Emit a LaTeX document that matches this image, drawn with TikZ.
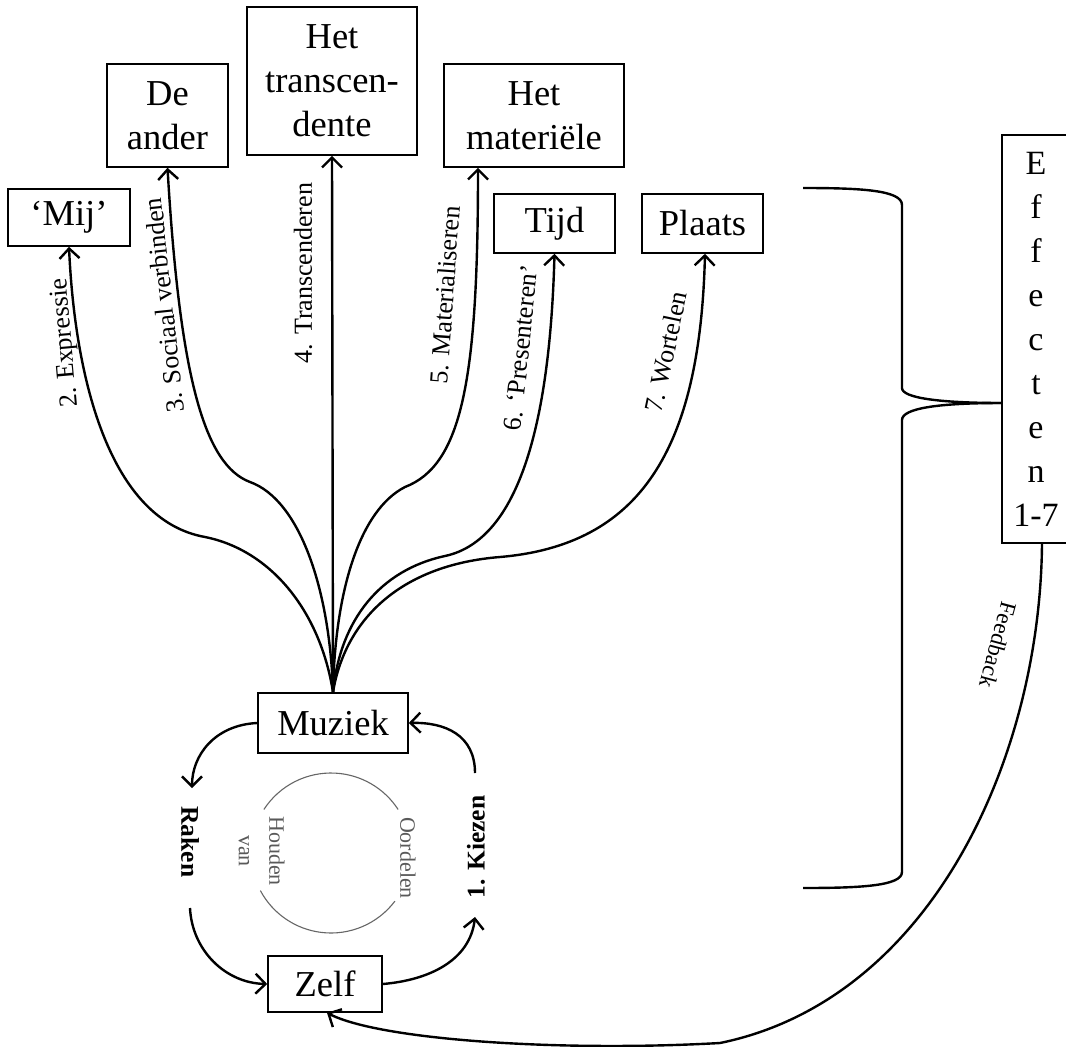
\documentclass[tikz,border=0pt]{standalone}
\usepackage{fontspec}
\setmainfont{Liberation Serif}
\usetikzlibrary{arrows.meta}
\begin{document}
\begin{tikzpicture}[x=1pt,y=-1pt,
  box/.style={draw, line width=1.6pt, inner sep=0pt, align=center, font=\fontsize{36.5}{44}\selectfont},
  lbl/.style={font=\fontsize{26}{30}\selectfont, inner sep=0pt},
  bl/.style={font=\fontsize{25.5}{28}\selectfont\bfseries, inner sep=0pt},
  sm/.style={font=\fontsize{22}{25}\selectfont, text=black!65, inner sep=0pt},
  arr/.style={line width=2.4pt, -{Straight Barb[length=10pt,width=20pt]}},
  ln/.style={line width=2.4pt}]
\useasboundingbox (0,0) rectangle (1066,1047);

% boxes
\node[box, minimum width=122pt, minimum height=57pt] (mij) at (69,217.5) {‘Mij’};
\node[box, minimum width=121pt, minimum height=103pt] (ander) at (167.5,115.5) {De\\ander};
\node[box, minimum width=170pt, minimum height=148pt] (trans) at (332,81) {Het\\transcen-\\dente};
\node[box, minimum width=180pt, minimum height=103pt] (mat) at (534,115.5) {Het\\materiële};
\node[box, minimum width=121pt, minimum height=59pt] (tijd) at (554.5,223.5) {Tijd};
\node[box, minimum width=121pt, minimum height=59pt] (plaats) at (702.5,223.5) {Plaats};
\node[box, minimum width=150pt, minimum height=60pt] (muz) at (333,723) {Muziek};
\node[box, minimum width=114pt, minimum height=56pt] (zelf) at (325,984) {Zelf};
\node[box, minimum width=68pt, minimum height=408pt, font=\fontsize{34}{44}\selectfont] (eff) at (1036,339) {E\\f\\f\\e\\c\\t\\e\\n\\1-7};

% fan of effects
\draw[arr] (muz.north) .. controls (320,610) and (270,550) .. (205,537)
  .. controls (110,520) and (75,380) .. (mij.south);
\draw[arr] (muz.north) .. controls (330,590) and (300,500) .. (250,482)
  .. controls (205,465) and (180,380) .. (ander.south);
\draw[arr] (muz.north) -- (trans.south);
\draw[arr] (muz.north) .. controls (335,590) and (360,510) .. (405,487)
  .. controls (462,465) and (478,380) .. ([xshift=-56pt]mat.south);
\draw[arr] (muz.north) .. controls (340,620) and (380,570) .. (445,556)
  .. controls (520,540) and (550,420) .. (tijd.south);
\draw[arr] (muz.north) .. controls (345,620) and (400,565) .. (500,557)
  .. controls (640,545) and (700,450) .. ([xshift=2.5pt]plaats.south);

% branch labels
\node[lbl, rotate=95] (l2) at (66,343) {2. Expressie};
\node[lbl, rotate=96] (l3) at (164,305) {3. Sociaal verbinden};
\node[lbl, rotate=90] (l4) at (303,273) {4. Transcenderen};
\node[lbl, rotate=86] (l5) at (445,295) {5. Materialiseren};
\node[lbl, rotate=84] (l6) at (521,348) {6. ‘Presenteren’};
\node[lbl, rotate=78] (l7) at (666,352) {7. Wortelen};

% loop
\node[bl, rotate=-90] (raken) at (190,842) {Raken};
\node[bl, rotate=90] (kiezen) at (476,847) {1. Kiezen};
\coordinate (rktop) at (192,788);
\coordinate (rkbot) at (190,908);
\coordinate (kztop) at (475,773);
\coordinate (kzbot) at (475,917);
\draw[arr] (muz.west) .. controls (215,725) and (192,755) .. (rktop);
\draw[arr] (rkbot) .. controls (192,950) and (225,983) .. (zelf.west);
\draw[arr] (zelf.east) .. controls (430,980) and (470,960) .. (kzbot);
\draw[arr] (kztop) .. controls (475,735) and (445,722) .. (muz.east);

% inner circle
\coordinate (cc) at (331,853);
\draw[line width=1.1pt, black!60] ([shift={(-147:80)}]cc) arc[start angle=-147, end angle=-33, radius=80];
\draw[line width=1.1pt, black!60] ([shift={(37:80)}]cc) arc[start angle=37, end angle=152, radius=80];
\node[sm, rotate=-90] (houden) at (277,851) {Houden};
\node[sm, rotate=-90] (van) at (244,851) {van};
\node[sm, rotate=-90] (oordelen) at (408,858) {Oordelen};

% brace
\coordinate (cusp) at (1002,403);
\draw[ln] (803,188) .. controls (860,188) and (902,190) .. (902,205) -- (902,388)
  .. controls (902,398) and (940,403) .. (cusp);
\draw[ln] (cusp) .. controls (940,403) and (902,408) .. (902,420) -- (902,872)
  .. controls (902,886) and (860,888) .. (803,888);

% feedback
\draw[arr] ([xshift=6pt]eff.south) .. controls (1040,760) and (930,1000) .. (720,1043)
  .. controls (560,1052) and (380,1040) .. ([xshift=2pt]zelf.south);
\node[font=\fontsize{23}{26}\selectfont, inner sep=0pt, rotate=-105] (fb) at (998,645) {Feedback};
\end{tikzpicture}
\end{document}
